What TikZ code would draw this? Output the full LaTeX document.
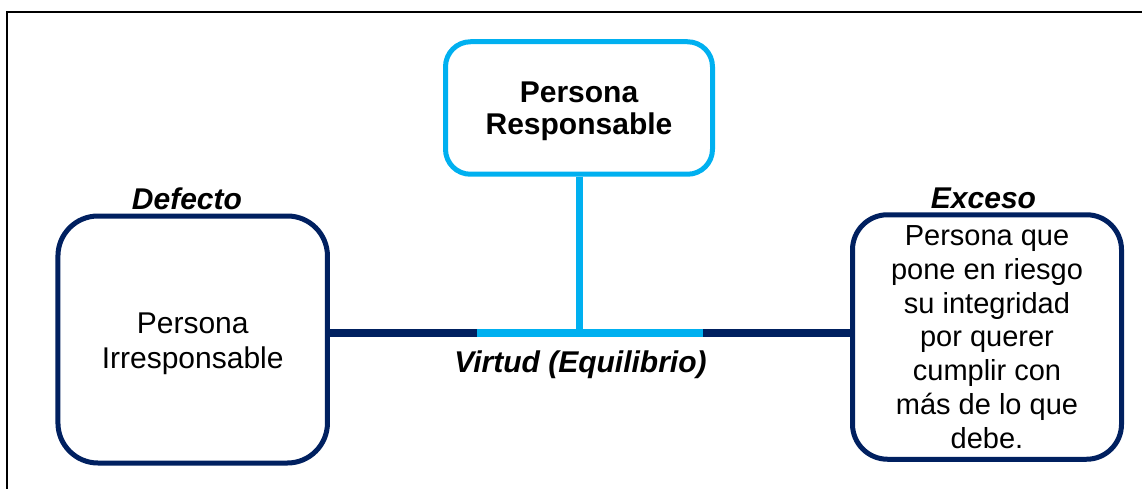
\documentclass[tikz,border=0pt]{standalone}
\usepackage{fontspec}
\setmainfont{Liberation Sans}
\definecolor{navy}{HTML}{002060}
\definecolor{sky}{HTML}{00B0F0}
\begin{document}
\begin{tikzpicture}[x=1pt,y=-1pt,
  box/.style={draw, rounded corners=#1, line width=5pt, fill=white,
    align=center, inner sep=0pt},
  tag/.style={anchor=base, inner sep=0pt,
    font=\bfseries\itshape\fontsize{30}{36}\selectfont},
  beam/.style={line width=7.5pt}]
\useasboundingbox (0,0) rectangle (1142,489);
% outer frame
\draw[line width=2pt] (6.5,489) -- (6.5,12.5) -- (1142,12.5);

% boxes
\node[box=25pt, draw=sky, minimum width=267pt, minimum height=132.5pt,
  text height=59.5pt,
  font=\bfseries\fontsize{30}{32.5}\selectfont] (resp) at (579,108)
  {Persona\\Responsable};
\node[box=40pt, draw=navy, minimum width=269.5pt, minimum height=247pt,
  text height=64.5pt,
  font=\fontsize{30}{35}\selectfont] (irresp) at (192.7,339.5)
  {Persona\\Irresponsable};
\node[box=35pt, draw=navy, minimum width=269pt, minimum height=244.5pt,
  font=\fontsize{29}{33.8}\selectfont] (riesgo) at (987,337)
  {Persona que\\pone en riesgo\\su integridad\\por querer\\cumplir con\\más de lo que\\debe.};

% connectors
\coordinate (axis) at (579,333);
\coordinate (va) at (477,333);
\coordinate (vb) at (703,333);
\draw[beam, navy] (irresp.east |- axis) -- (riesgo.west |- axis);
\draw[beam, sky] (va) -- (vb);
\draw[beam, sky, line width=7pt] (resp.south) -- (resp.south |- axis);

% labels
\node[tag] (defecto) at (187,209) {Defecto};
\node[tag] (exceso) at (983.5,208) {Exceso};
\node[tag] (virtud) at (580.5,372) {Virtud (Equilibrio)};
\end{tikzpicture}
\end{document}
